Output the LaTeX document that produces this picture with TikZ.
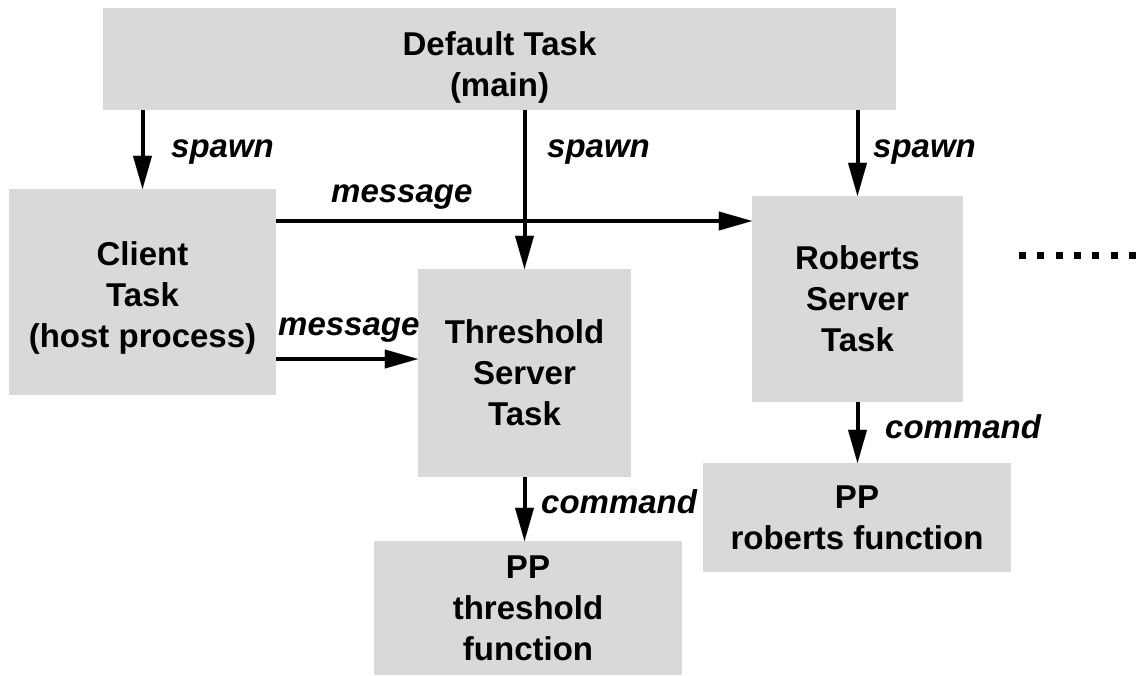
\documentclass[tikz,border=0pt]{standalone}
\usepackage{fontspec}
\setmainfont{Liberation Sans}
\usetikzlibrary{arrows.meta}
\definecolor{boxgray}{RGB}{217,217,217}
\newcommand{\lift}[1]{\rule{0pt}{#1}}
\tikzset{
  task/.style={fill=boxgray, inner sep=0pt, align=center,
    font=\fontsize{33}{41}\selectfont\bfseries},
  flow/.style={line width=4pt,
    -{Triangle[length=33pt,width=19pt,line width=0.01pt]}},
  tag/.style={inner sep=0pt, anchor=base west,
    font=\fontsize{33}{41}\selectfont\bfseries\itshape},
  etc/.style={line width=7pt, dash pattern=on 7pt off 11.3pt}
}
\begin{document}
\begin{tikzpicture}[x=1pt,y=-1pt]
\useasboundingbox (0,0) rectangle (1138,675);

% task boxes
\node[task, minimum width=793pt, minimum height=102pt] (def) at (499.5,59)
  {\lift{40pt}Default Task\\(main)};
\node[task, minimum width=267pt, minimum height=206pt] (cli) at (142.5,292)
  {\lift{35pt}Client\\Task\\(host process)};
\node[task, minimum width=213pt, minimum height=208pt] (thr) at (524.5,373)
  {Threshold\\Server\\Task};
\node[task, minimum width=211pt, minimum height=206pt] (rob) at (857.5,299)
  {Roberts\\Server\\Task};
\node[task, minimum width=308pt, minimum height=134pt] (ppt) at (528,608)
  {PP\\threshold\\function};
\node[task, minimum width=308pt, minimum height=109pt] (ppr) at (857,517.5)
  {PP\\roberts function};

% spawning
\draw[flow] (cli.north |- def.south) -- (cli.north);
\draw[flow] (thr.north |- def.south) -- (thr.north);
\draw[flow] (rob.north |- def.south) -- (rob.north);

% messages from the client
\coordinate (m1) at ([yshift=71pt]cli.east);
\draw[flow] (m1) -- (m1 -| rob.west);
\coordinate (m2) at ([yshift=-67pt]cli.east);
\draw[flow] (m2) -- (m2 -| thr.west);

% commands to the pixel processor
\draw[flow] (thr.south) -- (thr.south |- ppt.north);
\draw[flow] (rob.south) -- (rob.south |- ppr.north);

% labels
\node[tag] (s1) at (171,157) {spawn};
\node[tag] (s2) at (547,157) {spawn};
\node[tag] (s3) at (873,157) {spawn};
\node[tag] (g1) at (331,202) {message};
\node[tag] (g2) at (278,335) {message};
\node[tag] (c1) at (541,513) {command};
\node[tag] (c2) at (885,438) {command};

% more servers
\coordinate (d1) at (1019,255);
\coordinate (d2) at (1138,255);
\draw[etc] (d1) -- (d2);
\end{tikzpicture}
\end{document}
